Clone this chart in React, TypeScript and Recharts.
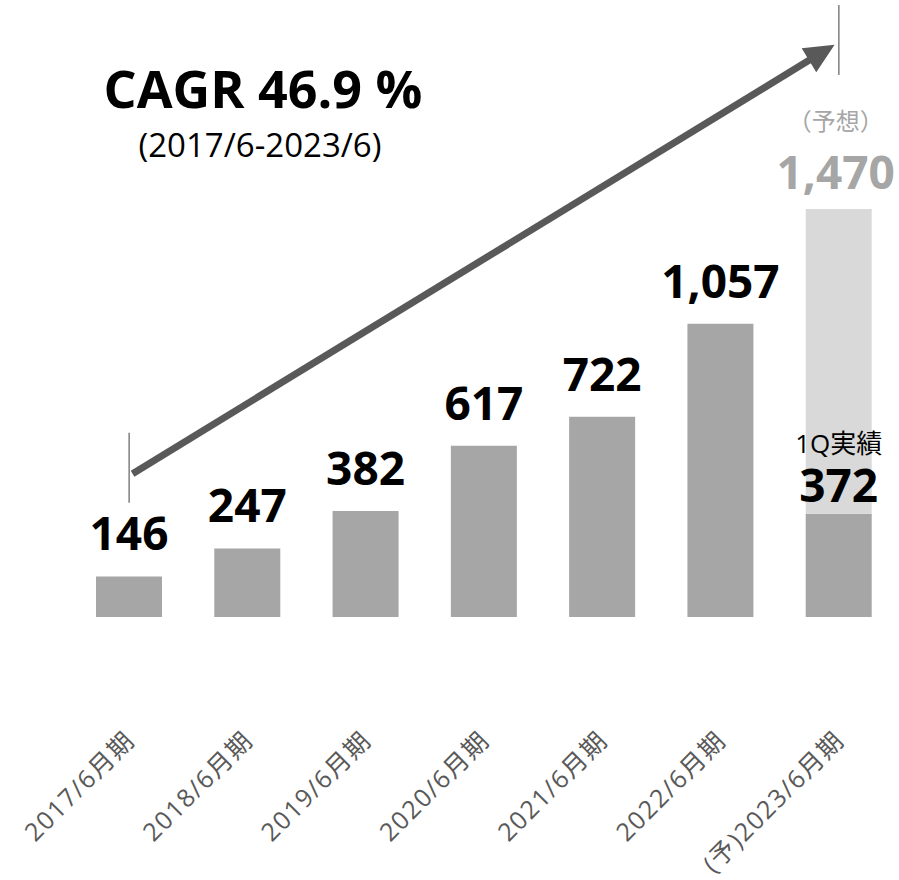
import React from "react";
import { Bar, BarChart, LabelList, ReferenceLine, XAxis, YAxis } from "recharts";

const CATEGORIES = [
  "2017/6月期",
  "2018/6月期",
  "2019/6月期",
  "2020/6月期",
  "2021/6月期",
  "2022/6月期",
  "(予)2023/6月期",
];
// actual results (last one = 1Q actual)
const ACTUAL = [146, 247, 382, 617, 722, 1057, 372];
// full-year forecast
const FORECAST: (number | null)[] = [null, null, null, null, null, null, 1470];

// CAGR arrow and its end markers, in value units
const ARROW = [509, 2072];
const MARK_LEFT = [412, 664];
const MARK_RIGHT = [1953, 2206];

const FONT = '"Open Sans", "Noto Sans CJK JP", sans-serif';
const BAR = "#a6a6a6";
const LIGHT = "#d9d9d9";
const DARK = "#595959";

const data = CATEGORIES.map((name, i) => ({
  name,
  actual: ACTUAL[i],
  rest: FORECAST[i] != null ? (FORECAST[i] as number) - ACTUAL[i] : null,
  forecast: FORECAST[i],
}));

const fmt = (v: number) => v.toLocaleString("en-US");

function XTick(props: any) {
  const { x, y, payload } = props;
  const px = x + 7;
  const py = y + 125;
  return (
    <text
      x={px}
      y={py}
      transform={`rotate(-45, ${px}, ${py})`}
      textAnchor="end"
      fontSize={25}
      letterSpacing={1.5}
      fill={DARK}
      fontFamily={FONT}
    >
      {payload.value}
    </text>
  );
}

function ActualLabel(props: any) {
  const { x, y, width, index, value } = props;
  const cx = x + width / 2;
  if (index === CATEGORIES.length - 1) {
    return (
      <g fontFamily={FONT}>
        <text x={cx} y={y - 61} textAnchor="middle" fontSize={26} fill="#000">
          1Q実績
        </text>
        <text x={cx} y={y - 12} textAnchor="middle" fontSize={46} fontWeight="bold" fill="#000">
          {fmt(value)}
        </text>
      </g>
    );
  }
  return (
    <text x={cx} y={y - 26} textAnchor="middle" fontSize={46} fontWeight="bold" fill="#000" fontFamily={FONT}>
      {fmt(value)}
    </text>
  );
}

function ForecastLabel(props: any) {
  const { x, y, width, value } = props;
  if (value == null) return null;
  const cx = x + width / 2;
  return (
    <g fontFamily={FONT} fill={BAR}>
      <text x={cx - 3} y={y - 79} textAnchor="middle" fontSize={24}>
        （予想）
      </text>
      <text x={cx - 3} y={y - 20} textAnchor="middle" fontSize={46} fontWeight="bold">
        {fmt(value)}
      </text>
    </g>
  );
}

function ArrowShape(props: any) {
  const { x1, y1, x2, y2 } = props;
  const len = Math.hypot(x2 - x1, y2 - y1);
  const ux = (x2 - x1) / len;
  const uy = (y2 - y1) / len;
  const sx = x1 + ux * 4;
  const sy = y1 + uy * 4;
  const tx = x2 - ux * 5;
  const ty = y2 - uy * 5;
  const head = 30;
  const half = 14;
  const bx = tx - ux * head;
  const by = ty - uy * head;
  const nx = -uy;
  const ny = ux;
  return (
    <g>
      <line x1={sx} y1={sy} x2={bx + ux * 2} y2={by + uy * 2} stroke={DARK} strokeWidth={7} />
      <polygon
        points={`${tx},${ty} ${bx + nx * half},${by + ny * half} ${bx - nx * half},${by - ny * half}`}
        fill={DARK}
      />
    </g>
  );
}

export default function App() {
  const last = CATEGORIES[CATEGORIES.length - 1];
  return (
    <div style={{ position: "absolute", left: 0, top: 0, width: 899, height: 880, background: "#fff" }}>
      <BarChart
        width={899}
        height={880}
        data={data}
        margin={{ top: 1, right: 1, bottom: 0, left: 70 }}
        barSize={66}
      >
        <XAxis
          dataKey="name"
          axisLine={false}
          tickLine={false}
          tickSize={0}
          tickMargin={0}
          interval={0}
          height={263}
          tick={<XTick />}
        />
        <YAxis hide domain={[0, 2220]} />
        <Bar dataKey="actual" stackId="a" fill={BAR} isAnimationActive={false}>
          <LabelList dataKey="actual" content={<ActualLabel />} />
        </Bar>
        <Bar dataKey="rest" stackId="a" fill={LIGHT} isAnimationActive={false}>
          <LabelList dataKey="forecast" content={<ForecastLabel />} />
        </Bar>
        <ReferenceLine
          segment={[
            { x: CATEGORIES[0], y: MARK_LEFT[0] },
            { x: CATEGORIES[0], y: MARK_LEFT[1] },
          ]}
          stroke="#7f7f7f"
          strokeWidth={1.5}
          ifOverflow="visible"
        />
        <ReferenceLine
          segment={[
            { x: last, y: MARK_RIGHT[0] },
            { x: last, y: MARK_RIGHT[1] },
          ]}
          stroke="#7f7f7f"
          strokeWidth={1.5}
          ifOverflow="visible"
        />
        <ReferenceLine
          segment={[
            { x: CATEGORIES[0], y: ARROW[0] },
            { x: last, y: ARROW[1] },
          ]}
          ifOverflow="visible"
          shape={ArrowShape}
        />
      </BarChart>
      <svg
        width={899}
        height={880}
        style={{ position: "absolute", left: 0, top: 0, pointerEvents: "none" }}
      >
        <text x={263} y={108} textAnchor="middle" fontSize={52} fontWeight="bold" fontFamily={FONT} fill="#000">
          CAGR 46.9 %
        </text>
        <text x={260} y={157} textAnchor="middle" fontSize={33} fontFamily={FONT} fill="#000">
          (2017/6-2023/6)
        </text>
      </svg>
    </div>
  );
}
